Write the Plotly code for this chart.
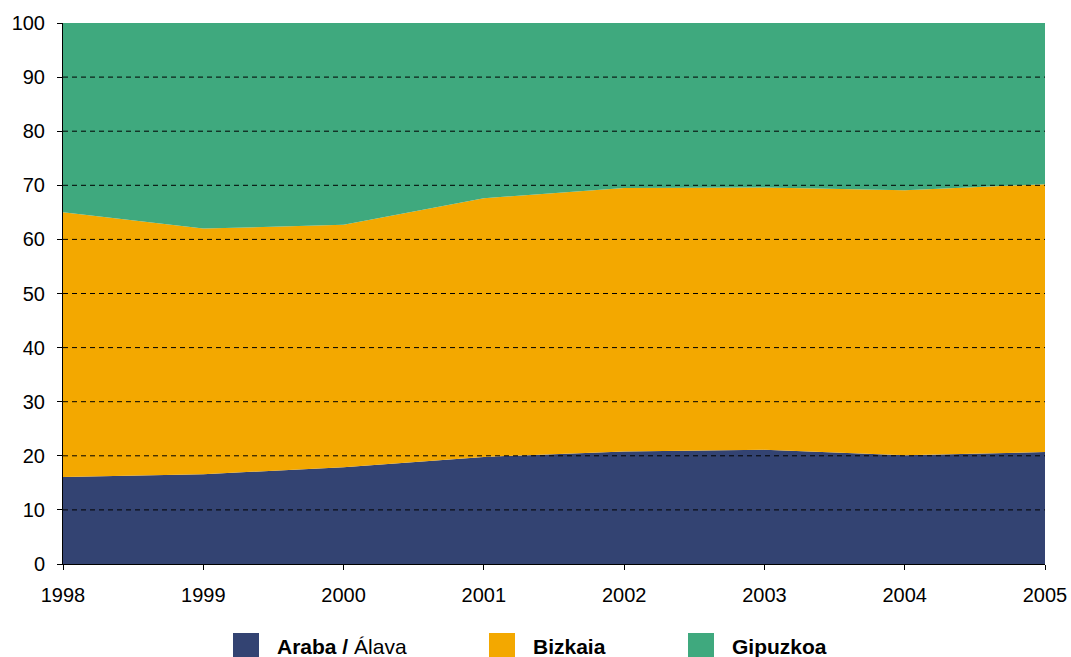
import plotly.graph_objects as go

years = [1998, 1999, 2000, 2001, 2002, 2003, 2004, 2005]
series_names = ["<b>Araba /</b> Álava", "<b>Bizkaia</b>", "<b>Gipuzkoa</b>"]
araba = [16.1, 16.6, 17.9, 19.8, 20.8, 21.1, 20.1, 20.7]
bizkaia = [48.9, 45.4, 44.8, 47.8, 48.7, 48.5, 49.0, 49.5]
gipuzkoa = [35.0, 38.0, 37.3, 32.4, 30.5, 30.4, 30.9, 29.8]
colors = ["#334372", "#F3A800", "#3FA97E"]
y_ticks = [0, 10, 20, 30, 40, 50, 60, 70, 80, 90, 100]

fig = go.Figure()
for name, vals, col in zip(series_names, [araba, bizkaia, gipuzkoa], colors):
    fig.add_trace(go.Scatter(
        x=years, y=vals, name=name, mode="lines", stackgroup="one",
        line=dict(width=0, color=col), fillcolor=col, showlegend=False,
        hoverinfo="x+y+name",
    ))

# dashed gridlines drawn above the areas
for t in y_ticks[1:-1]:
    fig.add_shape(type="line", xref="paper", yref="y", x0=0, x1=1, y0=t, y1=t,
                  line=dict(color="black", width=1, dash="5px,4px"), layer="above")

# legend as squares + labels (larger than plotly legend allows)
leg_x = [233, 489, 688]  # pixel left of each square
W, H = 1071, 657
L, R, T, B = 63, 26, 23, 93
pw = W - L - R
ph = H - T - B
for i, (name, col) in enumerate(zip(series_names, colors)):
    x0 = (leg_x[i] - L) / pw
    x1 = (leg_x[i] + 26 - L) / pw
    y0 = (564 - 658) / ph
    y1 = (564 - 633) / ph
    fig.add_shape(type="rect", xref="paper", yref="paper", x0=x0, x1=x1, y0=y0, y1=y1,
                  fillcolor=col, line=dict(width=0))
    fig.add_annotation(xref="paper", yref="paper", x=(leg_x[i] + 42 - L) / pw,
                       y=(564 - 646) / ph, text=name, showarrow=False,
                       xanchor="left", yanchor="middle",
                       font=dict(family="Liberation Sans, Arial", size=21, color="black"))

fig.update_layout(
    width=W, height=H,
    margin=dict(l=L, r=R, t=T, b=B),
    paper_bgcolor="white", plot_bgcolor="white",
    font=dict(family="Liberation Sans, Arial", size=20, color="black"),
    showlegend=False,
)
fig.update_xaxes(
    range=[1998, 2005], tickvals=years, ticktext=[str(y) for y in years],
    showgrid=False, zeroline=False, showline=True, linecolor="black", linewidth=1,
    ticks="outside", ticklen=5, tickcolor="black", automargin=False,
    ticklabelstandoff=8,
)
fig.update_yaxes(
    range=[0, 100], tickvals=y_ticks, showgrid=False, zeroline=False,
    showline=True, linecolor="black", linewidth=1,
    ticks="outside", ticklen=5, tickcolor="black", automargin=False,
    ticklabelstandoff=8,
)

fig.write_html("out.html")
